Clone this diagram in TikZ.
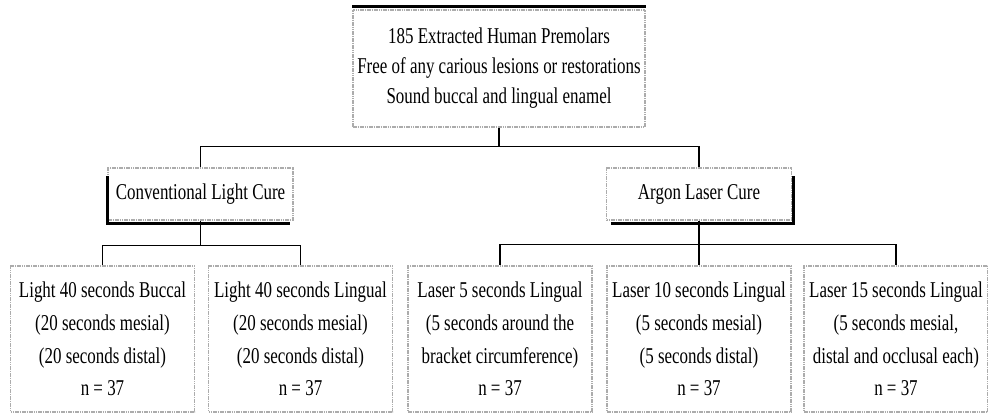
\documentclass[tikz,border=0pt]{standalone}
\usepackage{fontspec}
\setmainfont[FakeStretch=0.75]{Liberation Serif}
\tikzset{
    box/.style={draw=gray!65, line width=1.3pt, dash pattern=on 1.6pt off 0.7pt,
        fill=white, align=center, inner sep=0pt},
    topbox/.style={box, minimum width=292pt, minimum height=117pt,
        font=\fontsize{22.6}{30}\selectfont},
    midbox/.style={box, minimum width=185pt, minimum height=52pt,
        font=\fontsize{22.6}{30}\selectfont},
    leafbox/.style={box, minimum width=184pt, minimum height=146pt,
        font=\fontsize{22.6}{32.6}\selectfont},
    link/.style={draw=black, line width=1.6pt},
    shade/.style={draw=black, line width=3.2pt}
}
\begin{document}
\begin{tikzpicture}[x=1pt, y=-1pt]
    \useasboundingbox (0,0) rectangle (988,415);

    % Sample
    \node[topbox] (sample) at (499,68.5) {185 Extracted Human Premolars\\
        Free of any carious lesions or restorations\\
        Sound buccal and lingual enamel};

    % Curing groups
    \node[midbox] (light) at (200.5,194) {Conventional Light Cure};
    \node[midbox] (laser) at (699,194) {Argon Laser Cure};

    % Subgroups
    \node[leafbox] (lbuccal) at (102.5,339) {Light 40 seconds Buccal\\
        (20 seconds mesial)\\ (20 seconds distal)\\ n = 37};
    \node[leafbox] (llingual) at (300.5,339) {Light 40 seconds Lingual\\
        (20 seconds mesial)\\ (20 seconds distal)\\ n = 37};
    \node[leafbox] (laserfive) at (500,339) {Laser 5 seconds Lingual\\
        (5 seconds around the\\ bracket circumference)\\ n = 37};
    \node[leafbox] (laserten) at (699,339) {Laser 10 seconds Lingual\\
        (5 seconds mesial)\\ (5 seconds distal)\\ n = 37};
    \node[leafbox] (laserfifteen) at (896,339) {Laser 15 seconds Lingual\\
        (5 seconds mesial,\\ distal and occlusal each)\\ n = 37};

    % Shadow edges
    \draw[shade] (sample.north west) ++(0,-3) -- ([yshift=3pt]sample.north east);
    \draw[shade] ([yshift=-9pt]light.north west) -- ([yshift=-3pt]light.south west)
        -- ([xshift=-4pt,yshift=-3pt]light.south east);
    \draw[shade] ([xshift=5pt,yshift=-3pt]laser.south west) -- ([xshift=1.5pt,yshift=-3pt]laser.south east)
        -- ([xshift=1.5pt,yshift=-9pt]laser.north east);

    % Connectors
    \draw[link] (sample.south) -- ++(0,19) coordinate (split) -| (light.north);
    \draw[link] (split) -| (laser.north);
    \draw[link] (light.south) -- ++(0,25) coordinate (lsplit) -| (lbuccal.north);
    \draw[link] (lsplit) -| (llingual.north);
    \draw[link] (laser.south) -- ++(0,24) coordinate (asplit) -| (laserfive.north);
    \draw[link] (asplit) -- (laserten.north);
    \draw[link] (asplit) -| (laserfifteen.north);
\end{tikzpicture}
\end{document}
